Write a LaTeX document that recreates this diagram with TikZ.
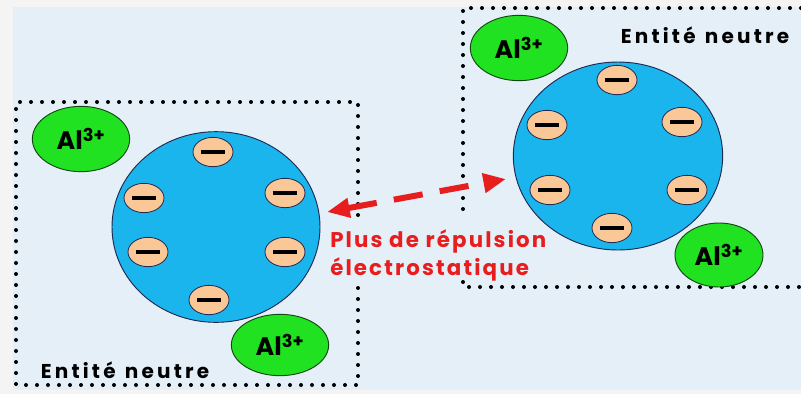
\documentclass[tikz,border=0pt]{standalone}
\usepackage{fontspec}
\setmainfont{Poppins}
\newfontfamily\spacedfont[LetterSpace=10]{Poppins}
\newfontfamily\widefont[LetterSpace=16]{Poppins}
\usetikzlibrary{arrows.meta,shapes.geometric}
\definecolor{outerbg}{RGB}{244,244,244}
\definecolor{bgblue}{RGB}{229,239,248}
\definecolor{bigblue}{RGB}{27,181,238}
\definecolor{navy}{RGB}{30,40,80}
\definecolor{elec}{RGB}{250,200,150}
\definecolor{algreen}{RGB}{32,226,32}
\definecolor{dkgreen}{RGB}{20,70,20}
\definecolor{redarr}{RGB}{232,30,30}
\tikzset{
  dotbox/.style={line width=3pt, dash pattern=on 0pt off 8.25pt, line cap=round, black},
  bigcirc/.style={ellipse, fill=bigblue, draw=navy, line width=0.7pt, inner sep=0pt},
  electron/.style={ellipse, fill=elec, draw=navy, line width=0.6pt, inner sep=0pt,
                   minimum width=30pt, minimum height=22pt},
  alion/.style={ellipse, fill=algreen, draw=dkgreen, line width=0.7pt, inner sep=0pt,
                minimum width=73pt, minimum height=49pt,
                font=\fontsize{19}{19}\selectfont\bfseries},
  entlabel/.style={font=\widefont\fontsize{15}{15}\selectfont\bfseries, inner sep=0pt},
  redlabel/.style={font=\spacedfont\fontsize{16}{21}\selectfont\bfseries, text=redarr, align=left, inner sep=0pt},
  reparrow/.style={redarr, line width=4.5pt, dash pattern=on 22pt off 13pt,
                   {Triangle[length=17pt,width=14pt]}-{Triangle[length=17pt,width=14pt]}}
}
\newcommand{\minusbar}{\rule{18pt}{2.8pt}}
\begin{document}
\begin{tikzpicture}[x=0.75pt,y=-0.75pt]
\useasboundingbox (0,0) rectangle (801,394);
\fill[outerbg] (0,0) rectangle (801,394);
\fill[bgblue] (13,7) rectangle (801,390);
% dotted boxes
\draw[dotbox] (358,215) -- (358,102) -- (16,102) -- (16,385) -- (358,385) -- (358,287);
\draw[dotbox] (801,8) -- (463,8) -- (463,215);
\draw[dotbox] (463,282) -- (463,287) -- (801,287);
% left entity
\node[bigcirc, minimum width=156pt, minimum height=143pt] (lc) at (216,227) {};
\node[electron] (le1) at (213,152) {\minusbar};
\node[electron] (le2) at (285,193) {\minusbar};
\node[electron] (le3) at (144,198) {\minusbar};
\node[electron] (le4) at (148,252) {\minusbar};
\node[electron] (le5) at (285,252) {\minusbar};
\node[electron] (le6) at (209,300) {\minusbar};
\node[alion] (la1) at (81,139) {Al\textsuperscript{3+}};
\node[alion, minimum height=46pt] (la2) at (280,345) {Al\textsuperscript{3+}};
\node[entlabel] (lt) at (125,370) {Entité\hspace{7pt}neutre};
% right entity
\node[bigcirc, minimum width=157pt, minimum height=141pt] (rc) at (618,156) {};
\node[electron] (re1) at (617,80) {\minusbar};
\node[electron] (re2) at (547,125) {\minusbar};
\node[electron] (re3) at (682,122) {\minusbar};
\node[electron] (re4) at (550,190) {\minusbar};
\node[electron] (re5) at (687,190) {\minusbar};
\node[electron] (re6) at (612,228) {\minusbar};
\node[alion] (ra1) at (519,48) {Al\textsuperscript{3+}};
\node[alion, minimum width=66pt, minimum height=48pt] (ra2) at (719,255) {Al\textsuperscript{3+}};
\node[entlabel] (rt) at (705,35) {Entité\hspace{7pt}neutre};
% arrow and label
\coordinate (a1) at (327,212);
\coordinate (a2) at (506,179);
\draw[reparrow] (a1) -- (a2);
\node[redlabel, anchor=north west] (lab) at (330,229) {Plus de répulsion\\électrostatique};
\end{tikzpicture}
\end{document}
